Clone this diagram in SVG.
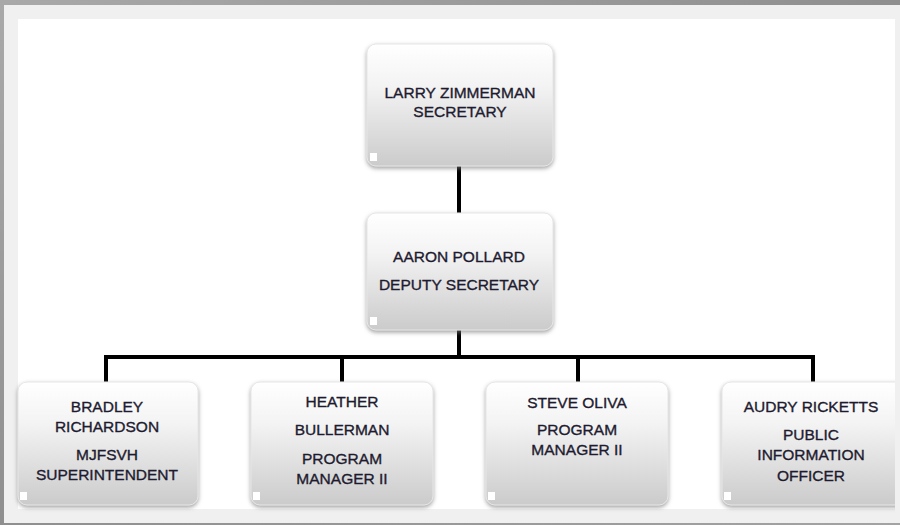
<svg xmlns="http://www.w3.org/2000/svg" width="900" height="525" viewBox="0 0 900 525">
  <defs>
    <linearGradient id="boxGrad" x1="0" y1="0" x2="0" y2="1">
      <stop offset="0" stop-color="#ffffff"/>
      <stop offset="0.35" stop-color="#f3f3f3"/>
      <stop offset="1" stop-color="#cbcbcb"/>
    </linearGradient>
    <linearGradient id="bgGrad" x1="0" y1="0" x2="1" y2="1">
      <stop offset="0" stop-color="#a9a9a9"/>
      <stop offset="0.5" stop-color="#8f8f8f"/>
      <stop offset="1" stop-color="#a3a3a3"/>
    </linearGradient>
    <filter id="shadow" x="-10%" y="-10%" width="120%" height="130%">
      <feDropShadow dx="0" dy="2" stdDeviation="2.2" flood-color="#7a7a7a" flood-opacity="0.7"/>
    </filter>
  </defs>
  <style>
    .box { fill: url(#boxGrad); stroke: #e6e6e6; stroke-width: 1; filter: url(#shadow); }
    .corner { fill: #ffffff; }
    .lbl { font-family: "Liberation Sans", Arial, sans-serif; font-size: 15.5px; fill: #1e1b30; stroke: #1e1b30; stroke-width: 0.35; text-anchor: middle; }
    .conn { fill: none; stroke: #000000; stroke-width: 4; stroke-linejoin: miter; stroke-linecap: square; }
  </style>

  <!-- background -->
  <rect x="0" y="0" width="900" height="525" fill="url(#bgGrad)"/>
  <rect x="4" y="5" width="896" height="518" fill="#f0f0f0"/>
  <rect x="18" y="19" width="877" height="490" fill="#ffffff"/>

  <!-- connectors -->
  <g id="connectors">
    <line class="conn" x1="459" y1="166" x2="459" y2="212"/>
    <line class="conn" x1="459" y1="330" x2="459" y2="357"/>
    <polyline class="conn" points="106,380 106,357 813,357 813,380"/>
    <line class="conn" x1="342" y1="357" x2="342" y2="380"/>
    <line class="conn" x1="578" y1="357" x2="578" y2="380"/>
  </g>

  <g id="node-zimmerman">
    <rect class="box" x="367" y="44" width="186" height="122" rx="9"/>
    <rect class="corner" x="370" y="153" width="7" height="8"/>
    <text class="lbl" x="460" y="98">LARRY ZIMMERMAN</text>
    <text class="lbl" x="460" y="117">SECRETARY</text>
  </g>

  <g id="node-pollard">
    <rect class="box" x="367" y="213" width="186" height="117" rx="9"/>
    <rect class="corner" x="370" y="317" width="7" height="8"/>
    <text class="lbl" x="459" y="262">AARON POLLARD</text>
    <text class="lbl" x="459" y="290">DEPUTY SECRETARY</text>
  </g>

  <g id="node-richardson">
    <rect class="box" x="18" y="382" width="180" height="123" rx="9"/>
    <rect class="corner" x="20" y="492" width="7" height="8"/>
    <text class="lbl" x="107" y="412">BRADLEY</text>
    <text class="lbl" x="107" y="432">RICHARDSON</text>
    <text class="lbl" x="107" y="460">MJFSVH</text>
    <text class="lbl" x="107" y="480">SUPERINTENDENT</text>
  </g>

  <g id="node-bullerman">
    <rect class="box" x="251" y="382" width="182" height="123" rx="9"/>
    <rect class="corner" x="253" y="492" width="7" height="8"/>
    <text class="lbl" x="342" y="407">HEATHER</text>
    <text class="lbl" x="342" y="435">BULLERMAN</text>
    <text class="lbl" x="342" y="464">PROGRAM</text>
    <text class="lbl" x="342" y="484">MANAGER II</text>
  </g>

  <g id="node-oliva">
    <rect class="box" x="486" y="382" width="182" height="123" rx="9"/>
    <rect class="corner" x="488" y="492" width="7" height="8"/>
    <text class="lbl" x="577" y="408">STEVE OLIVA</text>
    <text class="lbl" x="577" y="435">PROGRAM</text>
    <text class="lbl" x="577" y="455">MANAGER II</text>
  </g>

  <g id="node-ricketts">
    <rect class="box" x="722" y="382" width="184" height="123" rx="9"/>
    <rect class="corner" x="724" y="492" width="7" height="8"/>
    <text class="lbl" x="811" y="412">AUDRY RICKETTS</text>
    <text class="lbl" x="811" y="440">PUBLIC</text>
    <text class="lbl" x="811" y="460">INFORMATION</text>
    <text class="lbl" x="811" y="481">OFFICER</text>
  </g>

  <!-- right panel strip overlapping last box -->
  <rect x="895" y="5" width="5" height="518" fill="#f0f0f0"/>
</svg>
